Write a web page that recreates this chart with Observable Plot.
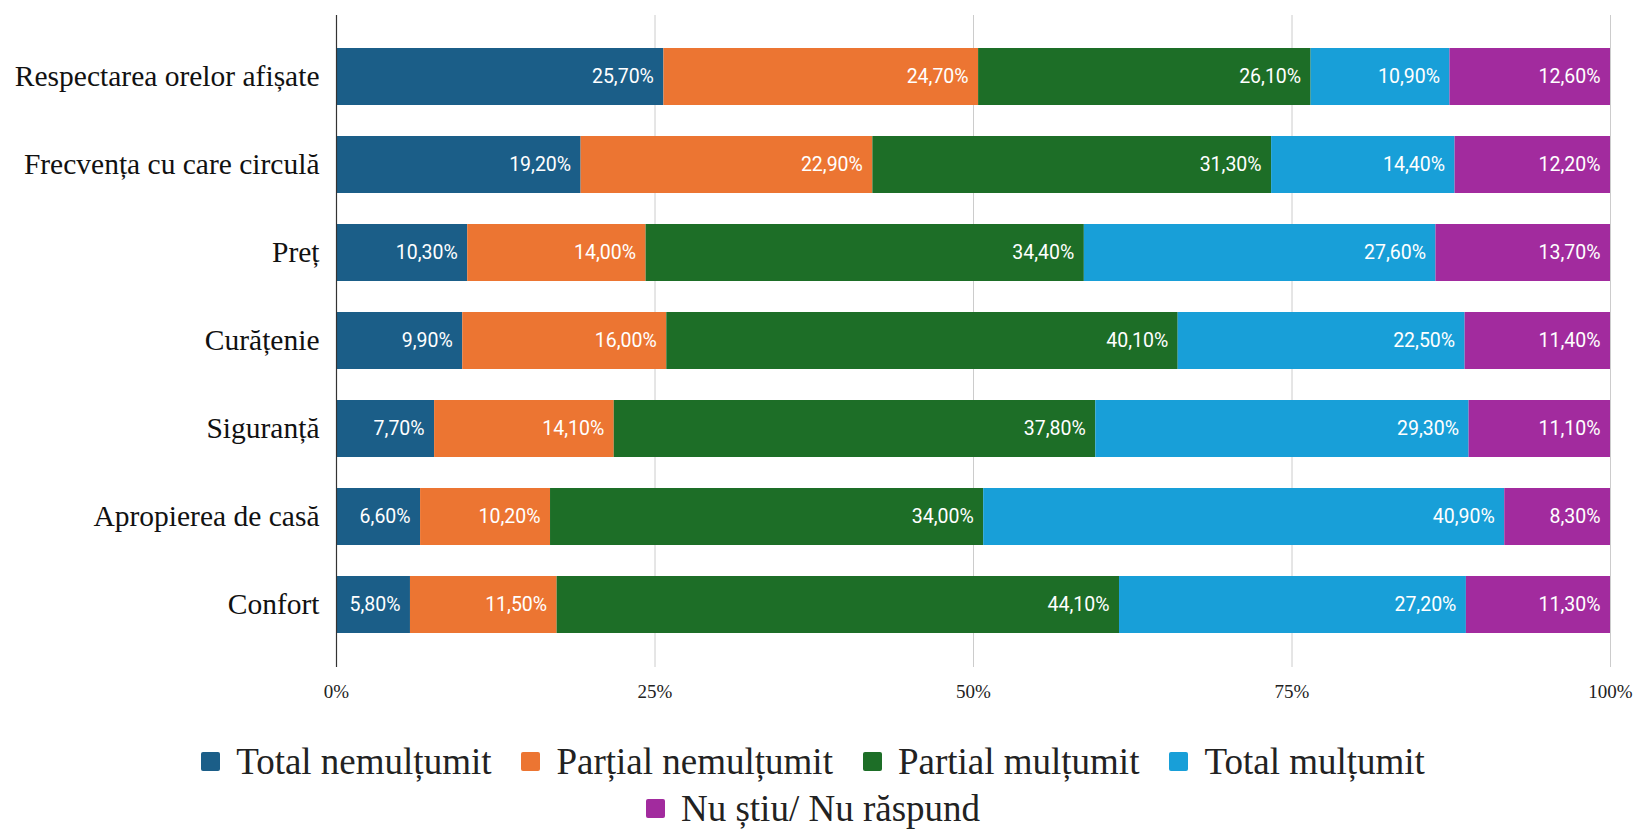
<!DOCTYPE html>
<html>
<head>
<meta charset="utf-8">
<script src="https://cdn.jsdelivr.net/npm/d3@7"></script>
<script src="https://cdn.jsdelivr.net/npm/@observablehq/plot@0.6"></script>
<style>
  html, body { margin: 0; padding: 0; background: #fff; }
  #chart svg { display: block; }
  .legend { margin-top: 23px; font-family: "Liberation Serif", "Times New Roman", serif; font-size: 37px; color: #222; padding-right: 16px; }
  .legend .row { display: flex; justify-content: center; align-items: center; height: 47px; }
  .legend .item { display: flex; align-items: center; margin: 0 15px; }
  .legend .sw { width: 19px; height: 19px; border-radius: 2px; margin-right: 16px; }
</style>
</head>
<body>
<div id="chart"></div>
<script>
const categories = [
  "Respectarea orelor afișate",
  "Frecvența cu care circulă",
  "Preț",
  "Curățenie",
  "Siguranță",
  "Apropierea de casă",
  "Confort"
];
const seriesNames = ["Total nemulțumit", "Parțial nemulțumit", "Partial mulțumit", "Total mulțumit", "Nu știu/ Nu răspund"];
const seriesColors = ["#1b5e88", "#ec7532", "#1d6e27", "#189fd8", "#a22b9e"];
const totalNemultumit   = [25.7, 19.2, 10.3, 9.9, 7.7, 6.6, 5.8];
const partialNemultumit = [24.7, 22.9, 14.0, 16.0, 14.1, 10.2, 11.5];
const partialMultumit   = [26.1, 31.3, 34.4, 40.1, 37.8, 34.0, 44.1];
const totalMultumit     = [10.9, 14.4, 27.6, 22.5, 29.3, 40.9, 27.2];
const nuStiu            = [12.6, 12.2, 13.7, 11.4, 11.1, 8.3, 11.3];
const xTicks = [0, 0.25, 0.5, 0.75, 1];

const seriesValues = [totalNemultumit, partialNemultumit, partialMultumit, totalMultumit, nuStiu];
const data = [];
categories.forEach((c, i) => {
  seriesNames.forEach((s, j) => {
    data.push({cat: c, series: s, value: seriesValues[j][i]});
  });
});

const fmt = v => v.toFixed(2).replace(".", ",") + "%";

const chart = Plot.plot({
  width: 1642,
  height: 715,
  marginTop: 15,
  marginBottom: 48,
  marginLeft: 336,
  marginRight: 32,
  style: {fontFamily: "Roboto, sans-serif", background: "#fff"},
  x: {domain: [0, 1], axis: null},
  y: {domain: categories, padding: 0.35, axis: null},
  color: {domain: seriesNames, range: seriesColors},
  marks: [
    Plot.gridX(xTicks.slice(1), {stroke: "#cccccc", strokeOpacity: 1, strokeWidth: 1}),
    Plot.barX(data, Plot.stackX({x: "value", y: "cat", z: "series", fill: "series", offset: "normalize"})),
    Plot.ruleX([0], {stroke: "#333", strokeWidth: 1.2}),
    Plot.textX(data, Plot.stackX2({
      x: "value", y: "cat", z: "series", offset: "normalize",
      text: d => fmt(d.value),
      textAnchor: "end", dx: -10, fill: "white",
      fontSize: 19.5, fontFamily: "Roboto, sans-serif"
    })),
    Plot.axisY({tickSize: 0, tickPadding: 17, fontSize: 29.5, fontFamily: "Liberation Serif, Times New Roman, serif", color: "#111", label: null}),
    Plot.axisX({ticks: xTicks, tickSize: 0, tickPadding: 17, fontSize: 19, fontFamily: "Liberation Serif, Times New Roman, serif", color: "#222", label: null, tickFormat: d => Math.round(d * 100) + "%"})
  ]
});
document.getElementById("chart").appendChild(chart);

const legend = document.createElement("div");
legend.className = "legend";
const rows = [[0, 1, 2, 3], [4]];
rows.forEach(r => {
  const row = document.createElement("div");
  row.className = "row";
  r.forEach(j => {
    const item = document.createElement("div");
    item.className = "item";
    const sw = document.createElement("span");
    sw.className = "sw";
    sw.style.background = seriesColors[j];
    const label = document.createElement("span");
    label.textContent = seriesNames[j];
    item.appendChild(sw);
    item.appendChild(label);
    row.appendChild(item);
  });
  legend.appendChild(row);
});
document.getElementById("chart").appendChild(legend);
</script>
</body>
</html>
